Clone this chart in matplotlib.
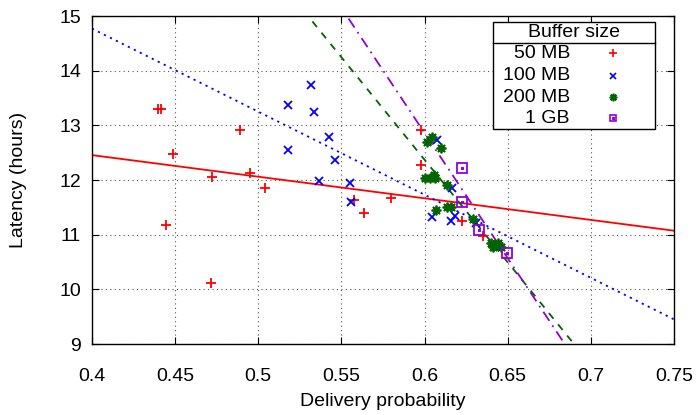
import matplotlib
matplotlib.use("Agg")
import matplotlib.pyplot as plt
import numpy as np
from matplotlib.patches import Rectangle

plt.rcParams['font.family'] = ['Liberation Sans', 'DejaVu Sans']

# 50 MB
x50 = [0.4398, 0.4415, 0.4485, 0.4445, 0.4719, 0.4713, 0.4889, 0.4950, 0.5040,
       0.5575, 0.5635, 0.5800, 0.5977, 0.5977, 0.6228, 0.6352]
y50 = [13.30, 13.30, 12.48, 11.17, 12.06, 10.11, 12.92, 12.12, 11.86,
       11.64, 11.39, 11.67, 12.91, 12.28, 11.25, 10.98]

# 100 MB
x100 = [0.5316, 0.5180, 0.5334, 0.5424, 0.5180, 0.5464, 0.5364, 0.5550, 0.5560,
        0.6077, 0.6167, 0.6047, 0.6181, 0.6161, 0.6312, 0.6422]
y100 = [13.73, 13.37, 13.24, 12.78, 12.55, 12.37, 11.98, 11.94, 11.59,
        12.73, 11.85, 11.33, 11.34, 11.25, 11.21, 10.78]

# 200 MB
x200 = [0.6015, 0.6047, 0.6097, 0.6005, 0.6031, 0.6055, 0.6061, 0.6137, 0.6067,
        0.6137, 0.6161, 0.6292, 0.6402, 0.6422, 0.6442, 0.6462, 0.6412]
y200 = [12.70, 12.78, 12.58, 12.03, 12.04, 12.09, 12.03, 11.91, 11.45,
        11.50, 11.50, 11.29, 10.84, 10.81, 10.84, 10.78, 10.78]

# 1 GB
x1g = [0.6228, 0.6228, 0.6328, 0.6496]
y1g = [12.22, 11.59, 11.08, 10.66]

# linear fits (slope, intercept)
fit50 = (-3.95, 14.035)
fit100 = (-15.2, 20.85)
fit200 = (-37.5, 34.87)
fit1g = (-45.8, 40.34)

labels = ['50 MB', '100 MB', '200 MB', '1 GB']
colors = ['#ff0000', '#0000ff', '#006400', '#9400d3']

FS = 14

fig = plt.figure(figsize=(6.96, 4.15), dpi=100)
ax = fig.add_axes([92/696, 1 - 344/415, 582/696, 328/415])

xs = np.linspace(0.4, 0.75, 400)
ax.plot(xs, fit50[0]*xs + fit50[1], color=colors[0], lw=1.3, ls='-')
ax.plot(xs, fit100[0]*xs + fit100[1], color=colors[1], lw=1.3, ls=(0, (1.2, 2.5)))
ax.plot(xs, fit200[0]*xs + fit200[1], color=colors[2], lw=1.3, ls=(0, (4, 4)))
ax.plot(xs, fit1g[0]*xs + fit1g[1], color=colors[3], lw=1.3, ls=(0, (6, 3, 1, 3)))

ax.plot(x50, y50, ls='none', marker='+', ms=7, mew=1.3, color=colors[0])
ax.plot(x100, y100, ls='none', marker='x', ms=6, mew=1.3, color=colors[1])
ax.plot(x200, y200, ls='none', marker=(8, 2, 0), ms=7, mew=1.3, color=colors[2])
ax.plot(x1g, y1g, ls='none', marker='s', ms=6.5, mew=1.3, mfc='none', color=colors[3])
ax.plot(x1g, y1g, ls='none', marker='s', ms=1.8, mew=0.8, color=colors[3])

ax.set_xlim(0.4, 0.75)
ax.set_ylim(9, 15)
ax.set_xticks([0.4, 0.45, 0.5, 0.55, 0.6, 0.65, 0.7, 0.75])
ax.set_xticklabels(['0.4', '0.45', '0.5', '0.55', '0.6', '0.65', '0.7', '0.75'])
ax.set_yticks(range(9, 16))
ax.tick_params(direction='in', length=5, width=0.8, labelsize=FS,
               top=True, right=True)
ax.tick_params(axis='x', pad=17)
ax.tick_params(axis='y', pad=8)
ax.grid(True, color='#555555', ls=(0, (1, 3)), lw=0.8)
for s in ax.spines.values():
    s.set_linewidth(1.0)

ax.set_xlabel('Delivery probability', fontsize=FS, labelpad=6)
ax.set_ylabel('Latency (hours)', fontsize=FS, labelpad=23)

# key box, drawn in axes fraction
T = ax.transAxes
ax.add_patch(Rectangle((0.6885, 0.6546), 0.9674 - 0.6885, 0.9826 - 0.6546,
                       transform=T, facecolor='white', edgecolor='black',
                       lw=1.0, zorder=5))
ax.plot([0.6885, 0.9674], [0.9168, 0.9168], transform=T, color='black',
        lw=1.0, zorder=6)
ax.text(0.8277, 0.9491, 'Buffer size', transform=T, ha='center', va='center',
        fontsize=FS, zorder=6)
key_y = [0.8863, 0.8180, 0.7521, 0.6881]
for lab, c, yk in zip(labels, colors, key_y):
    ax.text(0.8213, yk, lab, transform=T, ha='right', va='center',
            fontsize=FS, zorder=6)
ax.plot(0.8957, key_y[0], transform=T, marker='+', ms=5.5, mew=1.2, color=colors[0], zorder=7)
ax.plot(0.8957, key_y[1], transform=T, marker='x', ms=5, mew=1.2, color=colors[1], zorder=7)
ax.plot(0.8957, key_y[2], transform=T, marker=(8, 2, 0), ms=5.5, mew=1.2, color=colors[2], zorder=7)
ax.plot(0.8957, key_y[3], transform=T, marker='s', ms=5, mew=1.2, mfc='none', color=colors[3], zorder=7)
ax.plot(0.8957, key_y[3], transform=T, marker='s', ms=1.5, mew=0.7, color=colors[3], zorder=7)

fig.savefig('out.png', dpi=100)
